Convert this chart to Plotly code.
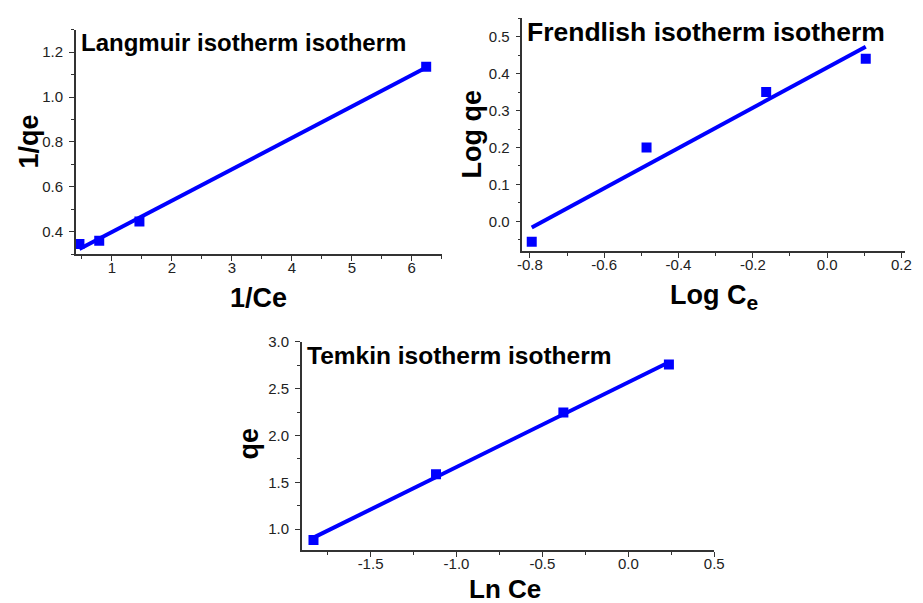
import numpy as np
import plotly.graph_objects as go

# Langmuir: 1/Ce vs 1/qe
lang_x = [0.46, 0.79, 1.46, 6.24]
lang_y = [0.346, 0.36, 0.446, 1.135]

# Freundlich: Log Ce vs Log qe
freu_x = [-0.795, -0.486, -0.164, 0.104]
freu_y = [-0.055, 0.20, 0.35, 0.44]

# Temkin: Ln Ce vs qe
temk_x = [-1.832, -1.119, -0.378, 0.236]
temk_y = [0.884, 1.587, 2.246, 2.76]

# tick values per axis (labels use a plain hyphen for negatives)
lang_xticks = [1, 2, 3, 4, 5, 6]
lang_yticks = [0.4, 0.6, 0.8, 1.0, 1.2]
freu_xticks = [-0.8, -0.6, -0.4, -0.2, 0.0, 0.2]
freu_yticks = [0.0, 0.1, 0.2, 0.3, 0.4, 0.5]
temk_xticks = [-1.5, -1.0, -0.5, 0.0, 0.5]
temk_yticks = [1.0, 1.5, 2.0, 2.5, 3.0]

BLUE = "#0000FF"
AXC = "#333333"
FONT = "Arial, Liberation Sans, sans-serif"

fig = go.Figure()


def add_panel(xs, ys, xa, ya):
    k, b = np.polyfit(xs, ys, 1)
    fx = np.array([min(xs), max(xs)])
    fig.add_trace(go.Scatter(x=xs, y=ys, mode="markers", xaxis=xa, yaxis=ya,
                             marker=dict(symbol="square", size=10, color=BLUE),
                             showlegend=False))
    fig.add_trace(go.Scatter(x=fx, y=k * fx + b, mode="lines", xaxis=xa, yaxis=ya,
                             line=dict(color=BLUE, width=4), showlegend=False))


add_panel(lang_x, lang_y, "x", "y")
add_panel(freu_x, freu_y, "x2", "y2")
add_panel(temk_x, temk_y, "x3", "y3")


def label(v, fmt):
    return format(v, fmt).replace("\u2212", "-")


def axis(domain, rng, ticks, fmt, minor, anchor, standoff):
    return dict(domain=domain, range=rng, anchor=anchor,
                tickmode="array", tickvals=ticks, ticktext=[label(v, fmt) for v in ticks],
                showline=True, linecolor=AXC, linewidth=1.5, mirror=False,
                ticks="outside", ticklen=5, tickcolor=AXC, tickwidth=1,
                ticklabelstandoff=standoff,
                showgrid=False, zeroline=False,
                tickfont=dict(family=FONT, size=15, color="#222222"),
                minor=dict(ticks="outside", ticklen=3, tickmode="linear", dtick=minor,
                           tickcolor=AXC, showgrid=False))


W, H = 923, 603


def xd(a, b):
    return [a / W, b / W]


def yd(top, bot):
    return [1 - bot / H, 1 - top / H]


fig.update_layout(
    width=W, height=H, margin=dict(l=0, r=0, t=0, b=0),
    paper_bgcolor="white", plot_bgcolor="white",
    xaxis=axis(xd(72, 444), [0.4, 6.5], lang_xticks, "g", 0.5, "y", -6),
    yaxis=axis(yd(21, 249), [0.3, 1.3], lang_yticks, ".1f", 0.1, "x", 3),
    xaxis2=axis(xd(526, 915), [-0.82, 0.21], freu_xticks, ".1f", 0.1, "y2", -6),
    yaxis2=axis(yd(9.3, 246), [-0.081, 0.55], freu_yticks, ".1f", 0.05, "x2", 3),
    xaxis3=axis(xd(301.7, 721), [-1.9, 0.5], temk_xticks, ".1f", 0.25, "y3", -6),
    yaxis3=axis(yd(338, 549), [0.78, 3.0], temk_yticks, ".1f", 0.25, "x3", 3),
)


def text(s, x, y, size, angle=0, xanchor="center"):
    fig.add_annotation(text=s, x=x / W, y=1 - y / H, xref="paper", yref="paper",
                       showarrow=False, textangle=angle, xanchor=xanchor, yanchor="middle",
                       borderpad=0, font=dict(family=FONT, size=size, color="black"))


# panel titles
text("<b>Langmuir isotherm isotherm</b>", 76, 34, 24, xanchor="left")
text("<b>Frendlish isotherm isotherm</b>", 530, 23, 26.5, xanchor="left")
text("<b>Temkin isotherm isotherm</b>", 306, 352, 24.5, xanchor="left")

# axis titles
text("<b>1/qe</b>", 24, 135, 27, angle=-90)
text("<b>1/Ce</b>", 258, 293, 27)
text("<b>Log qe</b>", 475, 127, 27, angle=-90)
text("<b>Log C<sub><span style='font-size:21px'>e</span></sub></b>", 721, 292, 27)
text("<b>qe</b>", 248, 441, 27, angle=-90)
text("<b>Ln Ce</b>", 508, 589, 26)

fig.write_html("out.html")
